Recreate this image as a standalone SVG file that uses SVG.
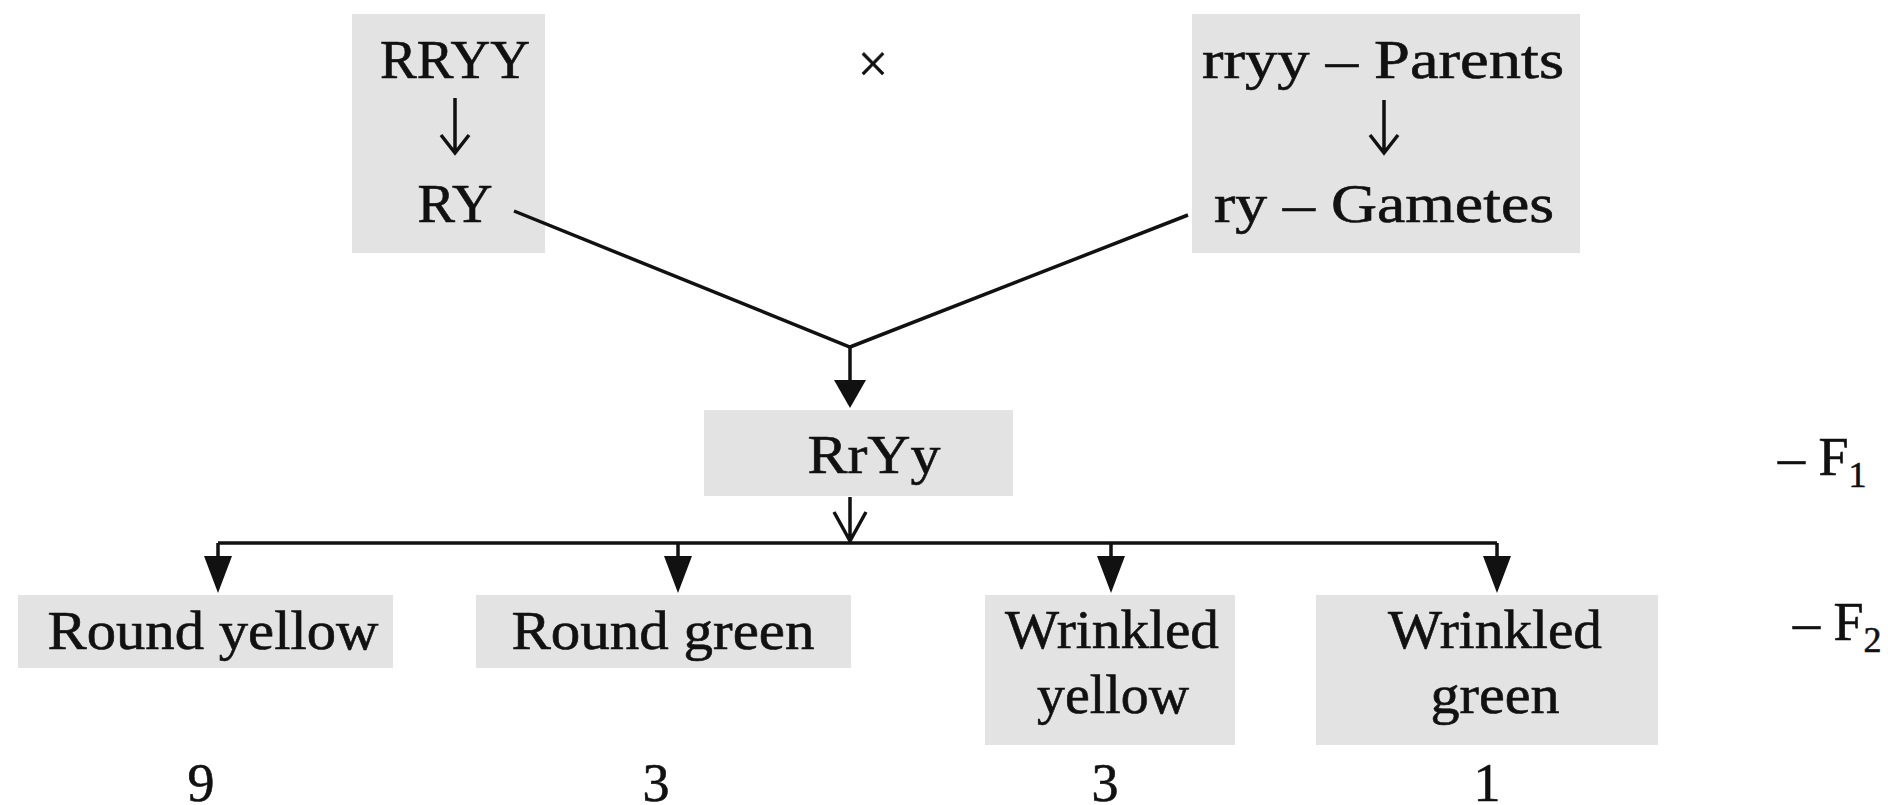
<svg xmlns="http://www.w3.org/2000/svg" width="1888" height="805" viewBox="0 0 1888 805">
<defs>
<style>
.box{fill:#e3e3e3}
.t{font-family:"Liberation Serif","Times New Roman",serif;font-size:54px;fill:#111;stroke:#111;stroke-width:0.6;text-anchor:middle}
.s{text-anchor:start}
.ln{stroke:#111;stroke-width:3.5;fill:none}
.hd{fill:#111}
.sub{font-size:36px}
</style>
</defs>
<rect width="1888" height="805" fill="#fff"/>
<g id="parentA">
<rect class="box" x="352" y="14" width="193" height="239"/>
<text class="t" x="455" y="78" textLength="150" lengthAdjust="spacingAndGlyphs">RRYY</text>
<path class="ln" d="M455 98V153M441 135L455 153L469 135" stroke-width="3"/>
<text class="t" x="455" y="222" textLength="75" lengthAdjust="spacingAndGlyphs">RY</text>
</g>
<g id="cross">
<text class="t" x="873" y="82" font-size="64">×</text>
</g>
<g id="parentB">
<rect class="box" x="1192" y="14" width="388" height="239"/>
<text class="t" x="1383" y="78" textLength="362" lengthAdjust="spacingAndGlyphs">rryy – Parents</text>
<path class="ln" d="M1384 100V153M1370 135L1384 153L1398 135" stroke-width="3"/>
<text class="t" x="1384" y="222" textLength="340" lengthAdjust="spacingAndGlyphs">ry – Gametes</text>
</g>
<g id="f1">
<rect class="box" x="704" y="410" width="309" height="86"/>
<text class="t" x="874" y="473" textLength="133" lengthAdjust="spacingAndGlyphs">RrYy</text>
</g>
<g id="f1label">
<text class="t s" x="1778" y="475">– F<tspan class="sub" dy="12">1</tspan></text>
</g>
<g id="f2label">
<text class="t s" x="1793" y="640">– F<tspan class="sub" dy="12">2</tspan></text>
</g>
<g id="roundYellow">
<rect class="box" x="18" y="595" width="375" height="73"/>
<text class="t" x="213" y="649" textLength="331" lengthAdjust="spacingAndGlyphs">Round yellow</text>
<text class="t" x="201" y="801">9</text>
</g>
<g id="roundGreen">
<rect class="box" x="476" y="595" width="375" height="73"/>
<text class="t" x="663" y="649" textLength="303" lengthAdjust="spacingAndGlyphs">Round green</text>
<text class="t" x="656" y="801">3</text>
</g>
<g id="wrinkledYellow">
<rect class="box" x="985" y="595" width="250" height="150"/>
<text class="t" x="1112" y="648" textLength="214" lengthAdjust="spacingAndGlyphs">Wrinkled</text>
<text class="t" x="1113" y="713" textLength="152" lengthAdjust="spacingAndGlyphs">yellow</text>
<text class="t" x="1105" y="801">3</text>
</g>
<g id="wrinkledGreen">
<rect class="box" x="1316" y="595" width="342" height="150"/>
<text class="t" x="1495" y="648" textLength="214" lengthAdjust="spacingAndGlyphs">Wrinkled</text>
<text class="t" x="1495" y="713" textLength="129" lengthAdjust="spacingAndGlyphs">green</text>
<text class="t" x="1487" y="801">1</text>
</g>
<g id="connectors">
<path class="ln" d="M514 211L850 347L1188 215"/>
<path class="ln" d="M850 347V385"/>
<path class="hd" d="M834 380H866L850 408Z"/>
<path class="ln" d="M850 497V542M834 512L850 541L866 512" stroke-width="3"/>
<path class="ln" d="M218 543H1497" stroke-width="4.5"/>
<path class="ln" d="M218 543V560M678 543V560M1111 543V560M1497 543V560"/>
<path class="hd" d="M204 556H232L218 593ZM664 556H692L678 593ZM1097 556H1125L1111 593ZM1483 556H1511L1497 593Z"/>
</g>
</svg>
